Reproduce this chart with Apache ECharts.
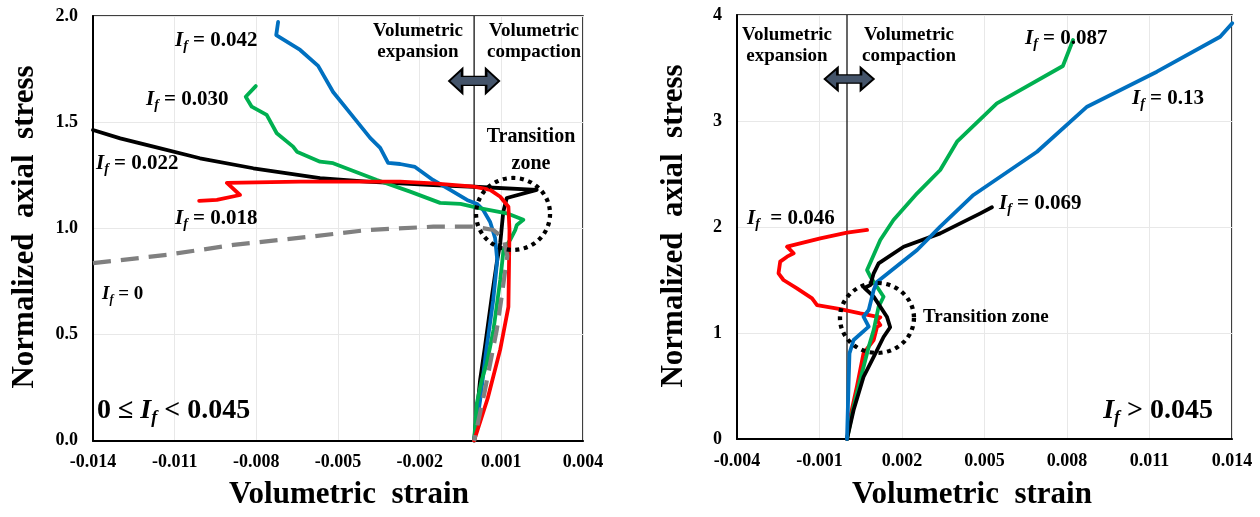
<!DOCTYPE html>
<html><head><meta charset="utf-8">
<script src="https://cdn.jsdelivr.net/npm/echarts@6/dist/echarts.min.js"></script>
<style>html,body{margin:0;padding:0;background:#fff}#c{width:1260px;height:517px}</style>
</head><body><div id="c"></div>
<script>
// ---- tick labels ----
const xTicksLeft = [-0.014, -0.011, -0.008, -0.005, -0.002, 0.001, 0.004];
const yTicksLeft = [0, 0.5, 1.0, 1.5, 2.0];
const xTicksRight = [-0.004, -0.001, 0.002, 0.005, 0.008, 0.011, 0.014];
const yTicksRight = [0, 1, 2, 3, 4];

// ---- left panel (0 <= If < 0.045): [volumetric strain, normalized axial stress] ----
const L_If042 = [[-0.00720,1.972],[-0.00727,1.910],[-0.00639,1.840],[-0.00573,1.765],[-0.00518,1.642],[-0.00456,1.544],[-0.00382,1.426],[-0.00345,1.379],[-0.00316,1.308],[-0.00272,1.303],[-0.00217,1.289],[-0.00151,1.228],[-0.00088,1.181],[-0.00026,1.134],[0.00011,1.115],[0.00033,1.087],[0.00059,1.030],[0.00077,0.955],[0.00085,0.850],[0.00070,0.660],[0.00045,0.430],[0.00022,0.190],[0,0]];
const L_If030 = [[-0.00802,1.670],[-0.00839,1.620],[-0.00817,1.573],[-0.00762,1.534],[-0.00725,1.448],[-0.00665,1.385],[-0.00651,1.361],[-0.00566,1.314],[-0.00518,1.307],[-0.00357,1.228],[-0.00235,1.173],[-0.00125,1.120],[-0.00050,1.115],[0.00010,1.098],[0.00120,1.071],[0.00181,1.040],[0.00157,1.016],[0.00151,0.992],[0.00132,0.945],[0.00108,0.898],[0.00096,0.757],[0.00071,0.521],[0.00047,0.366],[0.00028,0.286],[0.00010,0.176],[0,0]];
const L_If022 = [[-0.01400,1.463],[-0.01300,1.424],[-0.01178,1.385],[-0.01007,1.330],[-0.00811,1.283],[-0.00566,1.236],[-0.00394,1.220],[-0.00150,1.204],[0,1.196],[0.00230,1.181],[0.00120,1.143],[0.00107,1.077],[0.00096,0.931],[0.00083,0.836],[0.00065,0.678],[0.00040,0.443],[0.00022,0.286],[0.00004,0.050],[0,0]];
const L_If018 = [[-0.01010,1.129],[-0.00945,1.134],[-0.00860,1.157],[-0.00908,1.214],[-0.00639,1.220],[-0.00272,1.220],[-0.00150,1.212],[0,1.196],[0.00059,1.181],[0.00096,1.149],[0.00126,1.102],[0.00130,0.990],[0.00126,0.630],[0.00096,0.430],[0.00050,0.200],[0,0]];
const L_If0 = [[-0.01400,0.836],[-0.01129,0.875],[-0.00884,0.922],[-0.00602,0.961],[-0.00394,0.992],[-0.00150,1.008],[0,1.008],[0.00071,0.992],[0.00108,0.953],[0.00122,0.870],[0.00114,0.800],[0.00098,0.650],[0.00083,0.521],[0.00040,0.239],[0,0]];

// ---- right panel (If > 0.045) ----
const R_If13 = [[0,0],[0.00005,0.462],[0.00009,0.808],[0.00024,0.934],[0.00079,1.060],[0.00060,1.154],[0.00079,1.217],[0.00097,1.406],[0.00109,1.481],[0.00255,1.783],[0.00339,2.003],[0.00460,2.302],[0.00691,2.710],[0.00873,3.135],[0.01127,3.465],[0.01357,3.795],[0.01401,3.922]];
const R_If087 = [[0,0],[0.00024,0.305],[0.00048,0.557],[0.00079,0.871],[0.00097,1.028],[0.00115,1.248],[0.00133,1.342],[0.00085,1.531],[0.00073,1.594],[0.00121,1.877],[0.00169,2.066],[0.00255,2.318],[0.00339,2.538],[0.00400,2.805],[0.00545,3.167],[0.00785,3.519],[0.00822,3.764]];
const R_If069 = [[0,0],[0.00024,0.274],[0.00060,0.585],[0.00097,0.774],[0.00133,0.962],[0.00157,1.054],[0.00145,1.154],[0.00097,1.343],[0.00063,1.425],[0.00085,1.453],[0.00097,1.563],[0.00115,1.657],[0.00206,1.814],[0.00339,1.940],[0.00485,2.129],[0.00527,2.186]];
const R_If046 = [[0,0],[0.00012,0.210],[0.00036,0.493],[0.00060,0.808],[0.00097,0.934],[0.00109,1.057],[0.00121,1.075],[0.00109,1.123],[0.00121,1.148],[0.00048,1.185],[-0.00024,1.226],[-0.00109,1.264],[-0.00127,1.327],[-0.00182,1.421],[-0.00231,1.500],[-0.00249,1.563],[-0.00243,1.673],[-0.00218,1.720],[-0.00194,1.752],[-0.00218,1.814],[-0.00097,1.893],[0,1.946],[0.00073,1.972]];

// ---- annotation anchors (data coords) ----
const circleLeft = [[0.00143, 1.068]];
const circleRight = [[0.00109, 1.142]];
const arrowLeft = [[0, 1.694]];
const arrowRight = [[0.00008, 3.396]];

const F = "'Liberation Serif','Times New Roman',serif";
const chart = echarts.init(document.getElementById('c'));

function xAxis(ticks, gi) {
  return {
    type: 'value', gridIndex: gi, min: ticks[0], max: ticks[ticks.length - 1],
    axisLine: { show: true, onZero: false, lineStyle: { color: '#000', width: 2 } },
    axisTick: { show: false, customValues: ticks },
    axisLabel: { customValues: ticks, formatter: v => v.toFixed(3), fontFamily: F, fontWeight: 'bold', fontSize: 18, color: '#000', margin: 13 },
    splitLine: { show: true, lineStyle: { color: '#e8e8e8', width: 1 } }
  };
}
function yAxis(ticks, gi, dec) {
  return {
    type: 'value', gridIndex: gi, min: ticks[0], max: ticks[ticks.length - 1], interval: ticks[1] - ticks[0],
    axisLine: { show: true, onZero: false, lineStyle: { color: '#000', width: 2 } },
    axisTick: { show: false },
    axisLabel: { formatter: v => v.toFixed(dec), fontFamily: F, fontWeight: 'bold', fontSize: 18, color: '#000', margin: 15 },
    splitLine: { show: true, lineStyle: { color: '#e8e8e8', width: 1 } }
  };
}
function line(data, color, idx, extra) {
  return Object.assign({
    type: 'line', data: data, xAxisIndex: idx, yAxisIndex: idx, showSymbol: false, symbol: 'none',
    lineStyle: { color: color, width: 3.8, cap: 'round', join: 'round' }, silent: true
  }, extra || {});
}
const arrowPath = 'path://M0,12 L13,0 L13,7.5 L37,7.5 L37,0 L50,12 L37,24 L37,16.5 L13,16.5 L13,24 Z';

const richBase = (fs) => ({
  i: { fontFamily: F, fontWeight: 'bold', fontStyle: 'italic', fontSize: fs, lineHeight: fs + 4, color: '#000' },
  s: { fontFamily: F, fontWeight: 'bold', fontStyle: 'italic', fontSize: Math.round(fs * 0.65), lineHeight: Math.round(fs * 0.65), verticalAlign: 'bottom', color: '#000' },
  t: { fontFamily: F, fontWeight: 'bold', fontSize: fs, lineHeight: fs + 4, color: '#000' }
});
function ifLabel(x, y, rest, fs, align) {
  return { type: 'text', x: x, y: y, z: 50, style: { text: '{i|I}{s|f}{t|' + rest + '}', rich: richBase(fs), align: align || 'left', verticalAlign: 'middle' } };
}
function plain(x, y, text, fs, align, lh) {
  return { type: 'text', x: x, y: y, z: 50, style: { text: text, fontFamily: F, fontWeight: 'bold', fontSize: fs, lineHeight: lh || fs, fill: '#000', align: align || 'center', verticalAlign: 'middle' } };
}
const circleStyle = { color: 'rgba(0,0,0,0)', borderColor: '#000', borderWidth: 4.2, borderType: [4, 4.5], opacity: 1 };
const arrowStyle = { color: '#44546A', borderColor: '#000', borderWidth: 1.8, opacity: 1 };

const option = {
  animation: false,
  backgroundColor: '#fff',
  grid: [
    { left: 93, top: 16, width: 490, height: 424.7, show: true, borderColor: '#000', borderWidth: 1.5, backgroundColor: 'transparent' },
    { left: 737, top: 15, width: 495, height: 424, show: true, borderColor: '#000', borderWidth: 1.5, backgroundColor: 'transparent' }
  ],
  xAxis: [xAxis(xTicksLeft, 0), xAxis(xTicksRight, 1)],
  yAxis: [yAxis(yTicksLeft, 0, 1), yAxis(yTicksRight, 1, 0)],
  series: [
    line([[0, yTicksLeft[0]], [0, yTicksLeft[yTicksLeft.length - 1]]], '#000', 0, { lineStyle: { color: '#000', width: 1.2 } }),
    line(L_If022, '#000000', 0),
    line(L_If042, '#0070C0', 0),
    line(L_If030, '#00B050', 0),
    line(L_If018, '#FF0000', 0),
    line(L_If0, '#808080', 0, { lineStyle: { color: '#808080', width: 4.2, type: [18, 10], cap: 'butt' } }),
    { type: 'scatter', xAxisIndex: 0, yAxisIndex: 0, data: circleLeft, symbol: 'circle', symbolSize: [74, 72], silent: true, z: 5, itemStyle: circleStyle },
    { type: 'scatter', xAxisIndex: 0, yAxisIndex: 0, data: arrowLeft, symbol: arrowPath, symbolSize: [50, 24], silent: true, z: 5, itemStyle: arrowStyle },

    line([[0, yTicksRight[0]], [0, yTicksRight[yTicksRight.length - 1]]], '#000', 1, { lineStyle: { color: '#000', width: 1.2 } }),
    line(R_If046, '#FF0000', 1),
    line(R_If087, '#00B050', 1),
    line(R_If069, '#000000', 1),
    line(R_If13, '#0070C0', 1),
    { type: 'scatter', xAxisIndex: 1, yAxisIndex: 1, data: circleRight, symbol: 'circle', symbolSize: [74, 70], silent: true, z: 5, itemStyle: circleStyle },
    { type: 'scatter', xAxisIndex: 1, yAxisIndex: 1, data: arrowRight, symbol: arrowPath, symbolSize: [49, 22], silent: true, z: 5, itemStyle: arrowStyle }
  ],
  graphic: [
    // axis names
    { type: 'text', x: 25, y: 227, rotation: Math.PI / 2, z: 50, style: { text: 'Normalized  axial  stress', fontFamily: F, fontWeight: 'bold', fontSize: 31, fill: '#000', align: 'center', verticalAlign: 'middle' } },
    { type: 'text', x: 674, y: 226, rotation: Math.PI / 2, z: 50, style: { text: 'Normalized  axial  stress', fontFamily: F, fontWeight: 'bold', fontSize: 31, fill: '#000', align: 'center', verticalAlign: 'middle' } },
    plain(349, 495, 'Volumetric  strain', 31),
    plain(972, 495, 'Volumetric  strain', 31),
    // left annotations
    plain(418, 42, 'Volumetric\nexpansion', 19, 'center', 21),
    plain(534, 42, 'Volumetric\ncompaction', 19, 'center', 21),
    plain(531, 150, 'Transition\nzone', 20, 'center', 27),
    ifLabel(175, 41, ' = 0.042', 21),
    ifLabel(146, 100, ' = 0.030', 21),
    ifLabel(96, 164, ' = 0.022', 21),
    ifLabel(175, 219, ' = 0.018', 21),
    ifLabel(102, 294, ' = 0', 19),
    { type: 'text', x: 97, y: 411, z: 50, style: { text: '{t|0 ≤ }{i|I}{s|f}{t| < 0.045}', rich: richBase(28), align: 'left', verticalAlign: 'middle' } },
    // right annotations
    plain(787, 46, 'Volumetric\nexpansion', 19, 'center', 21),
    plain(909, 46, 'Volumetric\ncompaction', 19, 'center', 21),
    plain(923, 317, 'Transition zone', 19, 'left'),
    ifLabel(747, 219, '  = 0.046', 21),
    ifLabel(1025, 39, ' = 0.087', 21),
    ifLabel(1132, 99, ' = 0.13', 21),
    ifLabel(999, 204, ' = 0.069', 21),
    ifLabel(1213, 411, ' > 0.045', 28, 'right')
  ]
};
chart.setOption(option);
</script></body></html>
